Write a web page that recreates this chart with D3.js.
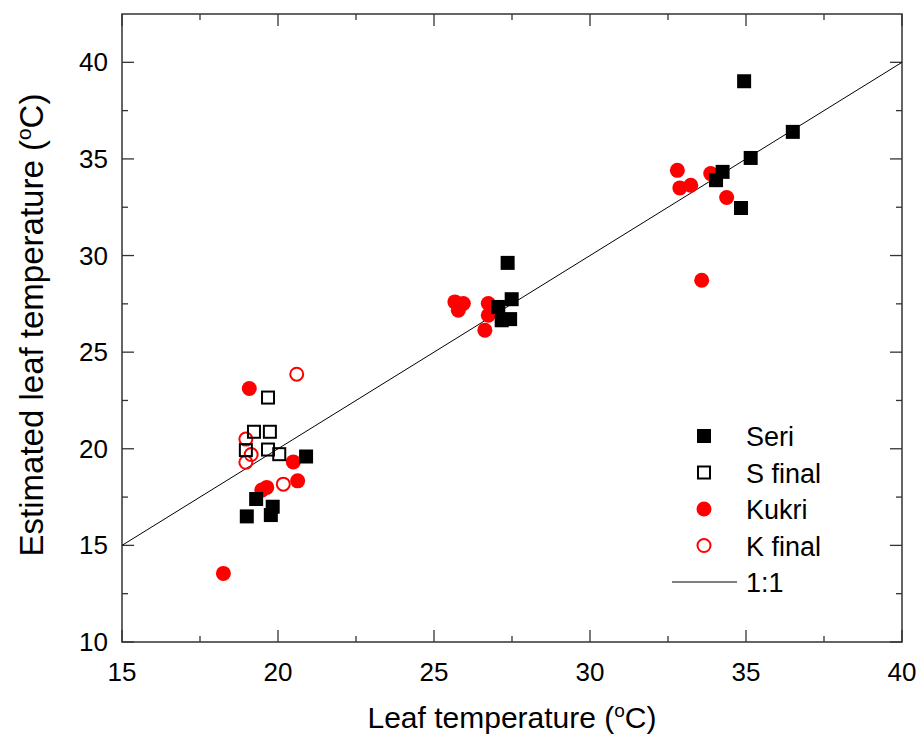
<!DOCTYPE html>
<html>
<head>
<meta charset="utf-8">
<script src="https://cdn.jsdelivr.net/npm/d3@7"></script>
<style>
  body { margin: 0; background: #fff; }
  text { font-family: Arial, "Liberation Sans", sans-serif; fill: #000; }
</style>
</head>
<body>
<div id="chart"></div>
<script>
// data: [leaf temperature, estimated leaf temperature]
var seri = [[20.9,19.6],[19.3,17.4],[19.83,17.0],[19.0,16.5],[19.77,16.57],
  [27.36,29.62],[27.49,27.74],[27.06,27.34],[27.17,26.65],[27.44,26.71],
  [34.94,39.02],[36.5,36.4],[35.15,35.05],[34.25,34.33],[34.04,33.9],[34.84,32.46]];
var sFinal = [[19.68,22.65],[19.23,20.88],[19.74,20.88],[18.97,19.93],[19.68,19.96],[20.04,19.72]];
var kukri = [[19.08,23.12],[20.49,19.32],[20.63,18.34],[19.64,18.0],[19.48,17.86],[18.25,13.55],
  [25.67,27.6],[25.94,27.52],[25.78,27.17],[26.74,27.52],[26.74,26.91],[26.63,26.14],
  [32.8,34.41],[33.87,34.24],[32.88,33.5],[33.23,33.64],[34.38,33.0],[33.58,28.72]];
var kFinal = [[20.6,23.86],[18.97,20.5],[19.14,19.7],[18.97,19.3],[20.17,18.17]];
var oneToOne = [[15,15],[40,40]];
var xTicks = [15, 20, 25, 30, 35, 40];
var yTicks = [10, 15, 20, 25, 30, 35, 40];
var minorTicks = [12.5, 17.5, 22.5, 27.5, 32.5, 37.5];

var svgWidth = 920, svgHeight = 737;
var margin = {top: 14, right: 18, bottom: 95, left: 122};
var width = svgWidth - margin.left - margin.right;
var height = svgHeight - margin.top - margin.bottom;

var svg = d3.select("#chart").append("svg")
  .attr("width", svgWidth)
  .attr("height", svgHeight);

var g = svg.append("g")
  .attr("transform", `translate(${margin.left},${margin.top})`);

var x = d3.scaleLinear().domain([15, 40]).range([0, width]);
var y = d3.scaleLinear().domain([10, 42.5]).range([height, 0]);

// frame
g.append("rect")
  .attr("width", width).attr("height", height)
  .attr("fill", "none").attr("stroke", "#333").attr("stroke-width", 1.5);

// inward ticks on all four sides
function ticks(vals, len) {
  vals.forEach(function(v) {
    var xv = x(v);
    if (v >= 15 && v <= 40) {
      g.append("line").attr("x1", xv).attr("x2", xv).attr("y1", height).attr("y2", height - len);
      g.append("line").attr("x1", xv).attr("x2", xv).attr("y1", 0).attr("y2", len);
    }
    var yv = y(v);
    g.append("line").attr("x1", 0).attr("x2", len).attr("y1", yv).attr("y2", yv);
    g.append("line").attr("x1", width).attr("x2", width - len).attr("y1", yv).attr("y2", yv);
  });
}
ticks(d3.range(10, 41, 5), 12);
ticks(minorTicks, 6);
g.selectAll("line").attr("stroke", "#333").attr("stroke-width", 1.3);

g.selectAll(".xlab").data(xTicks).enter().append("text")
  .attr("x", d => x(d)).attr("y", height + 39)
  .attr("text-anchor", "middle").attr("font-size", 26)
  .text(d => d);

g.selectAll(".ylab").data(yTicks).enter().append("text")
  .attr("x", -14).attr("y", d => y(d) + 9)
  .attr("text-anchor", "end").attr("font-size", 26)
  .text(d => d);

// axis titles
var xt = g.append("text")
  .attr("x", width / 2).attr("y", height + 86)
  .attr("text-anchor", "middle").attr("font-size", 30)
  .text("Leaf temperature (");
xt.append("tspan").attr("font-size", 19).attr("dy", -11).text("o");
xt.append("tspan").attr("dy", 11).text("C)");

var yt = g.append("text")
  .attr("transform", `translate(${-79},${height / 2 - 3}) rotate(-90)`)
  .attr("text-anchor", "middle").attr("font-size", 33)
  .text("Estimated leaf temperature (");
yt.append("tspan").attr("font-size", 21).attr("dy", -12).text("o");
yt.append("tspan").attr("dy", 12).text("C)");

// 1:1 line
var line = d3.line().x(d => x(d[0])).y(d => y(d[1]));
g.append("path").datum(oneToOne)
  .attr("d", line).attr("fill", "none")
  .attr("stroke", "#000").attr("stroke-width", 1);

// points
g.selectAll(".kukri").data(kukri).enter().append("circle")
  .attr("cx", d => x(d[0])).attr("cy", d => y(d[1]))
  .attr("r", 7.5).attr("fill", "#ff0000");

g.selectAll(".kfinal").data(kFinal).enter().append("circle")
  .attr("cx", d => x(d[0])).attr("cy", d => y(d[1]))
  .attr("r", 6.5).attr("fill", "none")
  .attr("stroke", "#ff0000").attr("stroke-width", 2);

g.selectAll(".seri").data(seri).enter().append("rect")
  .attr("x", d => x(d[0]) - 7).attr("y", d => y(d[1]) - 7)
  .attr("width", 14).attr("height", 14).attr("fill", "#000");

g.selectAll(".sfinal").data(sFinal).enter().append("rect")
  .attr("x", d => x(d[0]) - 6).attr("y", d => y(d[1]) - 6)
  .attr("width", 12).attr("height", 12).attr("fill", "none")
  .attr("stroke", "#000").attr("stroke-width", 2);

// legend
var legend = g.append("g").attr("transform", "translate(582, 422)");
var items = ["Seri", "S final", "Kukri", "K final", "1:1"];
items.forEach(function(name, i) {
  var row = legend.append("g").attr("transform", `translate(0, ${i * 36.5})`);
  if (i == 0) row.append("rect").attr("x", -7).attr("y", -7).attr("width", 14).attr("height", 14).attr("fill", "#000");
  if (i == 1) row.append("rect").attr("x", -6).attr("y", -6).attr("width", 12).attr("height", 12)
    .attr("fill", "none").attr("stroke", "#000").attr("stroke-width", 2);
  if (i == 2) row.append("circle").attr("r", 7.5).attr("fill", "#ff0000");
  if (i == 3) row.append("circle").attr("r", 6.5).attr("fill", "none").attr("stroke", "#ff0000").attr("stroke-width", 2);
  if (i == 4) row.append("line").attr("x1", -32).attr("x2", 33).attr("stroke", "#000").attr("stroke-width", 1);
  row.append("text").attr("x", 42).attr("y", 10).attr("font-size", 27).text(name);
});
</script>
</body>
</html>
